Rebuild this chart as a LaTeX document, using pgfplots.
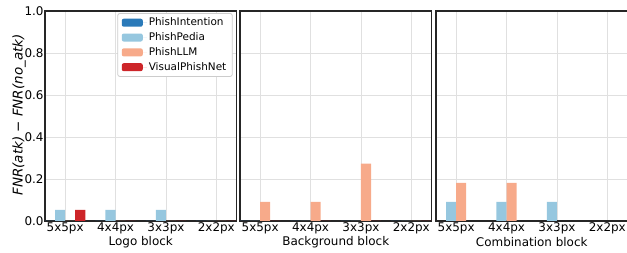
\documentclass[border=0pt]{standalone}
\usepackage{pgfplots}
\pgfplotsset{compat=1.18}
\usepackage{fontspec}
\setmainfont{DejaVu Sans}
\definecolor{cPI}{HTML}{2A7AB9}
\definecolor{cPP}{HTML}{96C7DF}
\definecolor{cPL}{HTML}{F7AA8A}
\definecolor{cVP}{HTML}{CD2529}
\pgfplotsset{
  mylegend/.style={legend image code/.code={\path (0bp,0bp) -- (25bp,0bp); \draw[##1,draw=none] (0bp,-4bp) rectangle (21bp,4bp);}},
  panel/.style={
    scale only axis, width=191.5bp, height=210bp, anchor=south west,
    xmin=-0.4, xmax=3.4, ymin=0, ymax=1,
    ybar=0pt, bar width=0.2,
    xtick={0,1,2,3}, xticklabels={5x5px,4x4px,3x3px,2x2px},
    ytick={0,0.2,0.4,0.6,0.8,1.0},
    grid=major, major grid style={color=black!12, line width=0.8bp},
    major tick length=0pt,
    axis line style={black!85, line width=1.1bp},
    tick label style={font=\fontsize{12}{14}\selectfont},
    /pgf/number format/assume math mode=true,
    /pgf/number format/fixed, /pgf/number format/fixed zerofill, /pgf/number format/precision=1,
    xticklabel style={anchor=base, yshift=-10.5bp, inner sep=0pt},
    yticklabel style={inner sep=1.2bp},
    xlabel style={font=\fontsize{12}{14}\selectfont, at={(axis description cs:0.5,0)}, anchor=base, yshift=-25bp, inner sep=0pt},
  }
}
\begin{document}
\begin{tikzpicture}
\useasboundingbox (0,0) rectangle (627bp,253bp);
\begin{axis}[panel, at={(45bp,32bp)}, xlabel={Logo block},
  legend cell align=left,
  legend style={at={(0.98,0.99)}, anchor=north east, draw=black!20, rounded corners=2bp, line width=0.8bp,
    font=\fontsize{10.5}{12.5}\selectfont, row sep=1.4bp, inner xsep=4bp, inner ysep=2.5bp}]
\addplot[fill=cPI, draw=none, bar shift=-0.3, mylegend] coordinates {(0,0) (1,0) (2,0) (3,0)};
\addplot[fill=cPP, draw=none, bar shift=-0.1, mylegend] coordinates {(0,0.053) (1,0.053) (2,0.053) (3,0)};
\addplot[fill=cPL, draw=none, bar shift=0.1, mylegend] coordinates {(0,0) (1,0) (2,0) (3,0)};
\addplot[fill=cVP, draw=none, bar shift=0.3, mylegend] coordinates {(0,0.053) (1,0) (2,0) (3,0)};
\legend{PhishIntention,PhishPedia,PhishLLM,VisualPhishNet}
\end{axis}
\begin{axis}[panel, at={(240bp,32bp)}, xlabel={Background block}, yticklabels={}]
\addplot[fill=cPI, draw=none, bar shift=-0.3] coordinates {(0,0) (1,0) (2,0) (3,0)};
\addplot[fill=cPP, draw=none, bar shift=-0.1] coordinates {(0,0) (1,0) (2,0) (3,0)};
\addplot[fill=cPL, draw=none, bar shift=0.1] coordinates {(0,0.091) (1,0.091) (2,0.273) (3,0)};
\addplot[fill=cVP, draw=none, bar shift=0.3] coordinates {(0,0) (1,0) (2,0) (3,0)};
\end{axis}
\begin{axis}[panel, at={(436bp,32bp)}, xlabel={Combination block}, yticklabels={}]
\addplot[fill=cPI, draw=none, bar shift=-0.3] coordinates {(0,0) (1,0) (2,0) (3,0)};
\addplot[fill=cPP, draw=none, bar shift=-0.1] coordinates {(0,0.091) (1,0.091) (2,0.091) (3,0)};
\addplot[fill=cPL, draw=none, bar shift=0.1] coordinates {(0,0.182) (1,0.182) (2,0) (3,0)};
\addplot[fill=cVP, draw=none, bar shift=0.3] coordinates {(0,0) (1,0) (2,0) (3,0)};
\end{axis}
\node[rotate=90, anchor=base, font=\fontsize{13.5}{16}\selectfont] at (22.5bp,138bp) {\itshape FNR(atk) \upshape− \itshape FNR(no\_atk)};
\end{tikzpicture}
\end{document}
